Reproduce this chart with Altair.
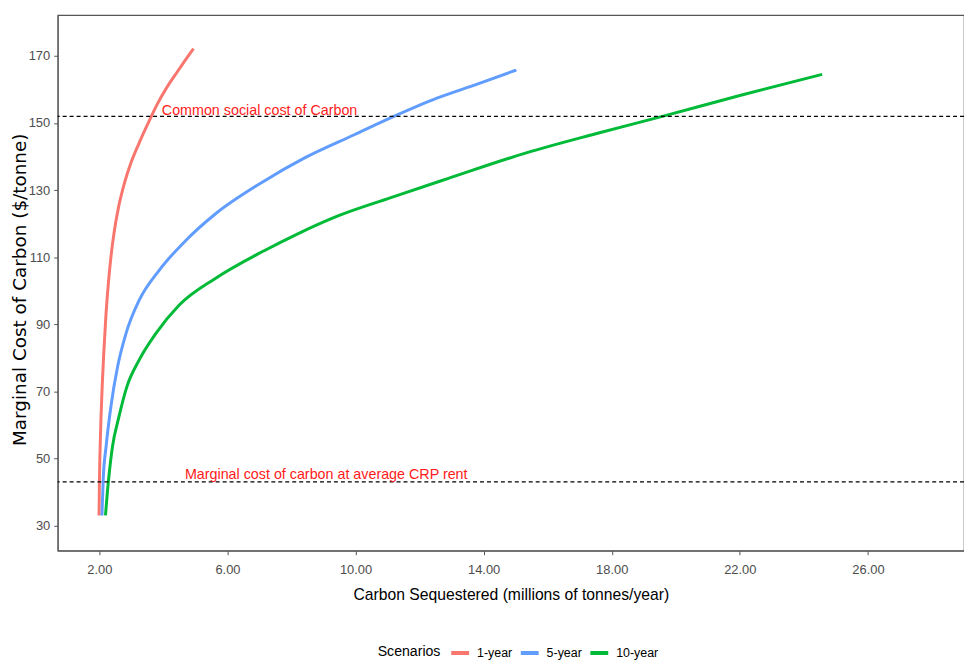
import altair as alt
import pandas as pd

# ---------------- data ----------------
scenarios = ["1-year", "5-year", "10-year"]
colors = ["#F8766D", "#619CFF", "#00BA38"]

x_1yr = [1.99, 2.00, 2.02, 2.05, 2.09, 2.14, 2.20, 2.27, 2.36, 2.47, 2.60, 2.78,
         3.00, 3.24, 3.50, 3.80, 4.10, 4.45, 4.70, 4.94]
y_1yr = [33.0, 42.0, 52.0, 62.0, 72.0, 82.0, 92.0, 101.0, 110.0, 118.0, 125.0, 132.0,
         138.5, 144.0, 149.5, 155.5, 160.5, 165.5, 169.0, 172.2]

x_5yr = [2.08, 2.12, 2.21, 2.36, 2.57, 2.83, 3.24, 3.86, 4.69, 5.61, 7.06, 8.41,
         9.96, 11.30, 12.54, 13.80, 15.02]
y_5yr = [33.0, 43.8, 53.6, 65.5, 77.4, 87.2, 97.1, 106.0, 114.9, 122.8, 132.2, 139.6,
         146.5, 152.4, 157.4, 161.6, 165.8]

x_10yr = [2.19, 2.25, 2.31, 2.41, 2.60, 2.86, 3.24, 3.76, 4.48, 5.61, 7.16, 8.18,
          9.45, 11.08, 12.90, 15.33, 17.50, 19.67, 22.00, 24.57]
y_10yr = [33.0, 40.0, 45.8, 53.6, 62.0, 71.4, 79.3, 87.2, 95.6, 103.6, 112.0, 116.9,
          122.3, 127.7, 133.5, 141.1, 146.8, 152.2, 158.2, 164.5]

ref_values = [152, 43]
ref_labels = ["Common social cost of Carbon", "Marginal cost of carbon at average CRP rent"]
ref_label_x = [3.95, 4.67]
ref_label_y = [152.5, 44.0]

x_ticks = [2, 6, 10, 14, 18, 22, 26]
y_ticks = [30, 50, 70, 90, 110, 130, 150, 170]

# ---------------- tables ----------------
rows = []
for name, xs, ys in [("1-year", x_1yr, y_1yr), ("5-year", x_5yr, y_5yr), ("10-year", x_10yr, y_10yr)]:
    for i, (a, b) in enumerate(zip(xs, ys)):
        rows.append({"scenario": name, "x": a, "y": b, "i": i})
df = pd.DataFrame(rows)
rule_df = pd.DataFrame({"y": ref_values})
text_df = pd.DataFrame({"x": ref_label_x, "y": ref_label_y, "label": ref_labels})

SANS = "Liberation Sans, Arial, sans-serif"
WIDE = "DejaVu Sans, Verdana, sans-serif"

xscale = alt.Scale(domain=[0.698, 29.0], nice=False, zero=False)
yscale = alt.Scale(domain=[22.5, 182.2], nice=False, zero=False)

xaxis = alt.Axis(values=x_ticks, format=".2f", grid=False,
                 title="Carbon Sequestered (millions of tonnes/year)",
                 labelFont=SANS, labelFontSize=13, labelColor="#4d4d4d", labelPadding=9,
                 tickSize=4, tickColor="#555555", domainColor="#555555",
                 titleFont=SANS, titleFontSize=15.8, titleFontWeight="normal",
                 titleColor="black", titleY=44, titleBaseline="middle")
yaxis = alt.Axis(values=y_ticks, grid=False,
                 title="Marginal Cost of Carbon ($/tonne)",
                 labelFont=SANS, labelFontSize=13, labelColor="#4d4d4d", labelPadding=4,
                 tickSize=4, tickColor="#555555", domainColor="#555555",
                 titleFont=WIDE, titleFontSize=18.5, titleFontWeight="normal",
                 titleColor="black", titleX=-38, titleY=276, titleBaseline="middle")

lines = alt.Chart(df).mark_line(strokeWidth=3, clip=True, interpolate="monotone").encode(
    x=alt.X("x:Q", scale=xscale, axis=xaxis),
    y=alt.Y("y:Q", scale=yscale, axis=yaxis),
    color=alt.Color("scenario:N", scale=alt.Scale(domain=scenarios, range=colors),
                    legend=alt.Legend(title="Scenarios", orient="none", legendX=322, legendY=631,
                                      direction="horizontal", titleOrient="left",
                                      titleAnchor="middle", titleBaseline="middle",
                                      titleFont=SANS, titleFontSize=14.2, titleFontWeight="normal",
                                      titleColor="black", titlePadding=8,
                                      labelFont=SANS, labelFontSize=12.5, labelColor="black",
                                      symbolType="stroke", symbolStrokeWidth=4, symbolSize=324,
                                      columnPadding=0, labelOffset=6, gridAlign="none")),
    order="i:Q",
)

rules = alt.Chart(rule_df).mark_rule(strokeDash=[4, 3], color="black", strokeWidth=1.2).encode(
    y=alt.Y("y:Q", scale=yscale, axis=yaxis)
)

texts = alt.Chart(text_df).mark_text(align="left", baseline="alphabetic", color="#ff1a1a",
                                     font=SANS, fontSize=14.4).encode(
    x=alt.X("x:Q", scale=xscale, axis=xaxis),
    y=alt.Y("y:Q", scale=yscale, axis=yaxis),
    text="label:N",
)

chart = alt.layer(lines, rules, texts).properties(
    width=912, height=539,
    padding={"left": 50, "top": 5, "right": 0, "bottom": 111},
    autosize=alt.AutoSizeParams(type="none"),
).configure_view(stroke="#555555", strokeWidth=1.2)

chart.save("out.html", embed_options={"renderer": "svg", "actions": False})
